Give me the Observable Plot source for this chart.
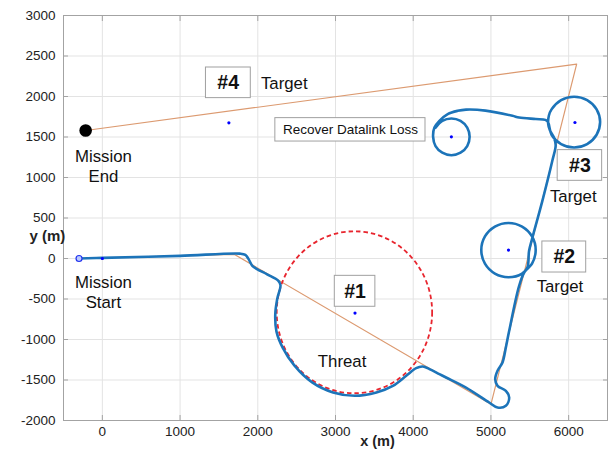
<!DOCTYPE html>
<html><head><meta charset="utf-8">
<script src="https://cdn.jsdelivr.net/npm/d3@7"></script>
<script src="https://cdn.jsdelivr.net/npm/@observablehq/plot@0.6"></script>
<style>
body{margin:0;background:#fff;font-family:"Liberation Sans",Arial,sans-serif;}
</style></head><body><div id="chart"></div>
<script>
const xTicks = [0,1000,2000,3000,4000,5000,6000];
const yTicks = [-2000,-1500,-1000,-500,0,500,1000,1500,2000,2500,3000];

// planned path (orange)
const plannedX = [-300, 1700, 5000, 6103, -215];
const plannedY = [0, 50, -1800, 2400, 1580];

// flown trajectory (blue)
const trajX = [-300,0,1000,1770,1840,1880,1930,1990,2120,2265,2292,2250,2225,2240,2320,2470,2700,2969,3247,3526,3738,3910,4038,4123,4209,4337,4423,4679,4978,5085,5192,5235,5192,5085,5055,5085,5149,5192,5235,5363,5432,
  5529,5576,5529,5401,5226,5051,4923,4876,4923,5051,5226,5401,5469,5491,5534,5662,5790,5833,5812,5760,5737,
  5746,5780,5903,6070,6238,6360,6405,6360,6238,6070,5903,5780,5735,5700,5577,5363,5277,4930,4680,4572,4444,4337,4273,4256,4287,4374,4491,4609,4695,4726,4695,4609,4491,4374,4287];
const trajY = [0,8,33,60,45,-5,-90,-130,-195,-275,-330,-500,-690,-900,-1100,-1320,-1530,-1654,-1695,-1654,-1572,-1448,-1353,-1333,-1365,-1427,-1469,-1593,-1778,-1840,-1819,-1716,-1633,-1572,-1489,-1386,-1284,-1099,-893,-337,-167,
  -64,104,272,394,439,394,272,104,-64,-186,-231,-186,-111,95,259,712,1206,1400,1490,1580,1660,
  1765,1841,1955,1997,1955,1841,1684,1528,1413,1371,1413,1528,1684,1712,1722,1740,1762,1826,1838,1823,1783,1700,1617,1502,1388,1306,1275,1306,1388,1502,1616,1699,1729,1699,1616];

// waypoint centres (small blue dots)
const waypointX = [0, 3251, 5226, 6081, 1628, 4491];
const waypointY = [0, -674, 104, 1679, 1675, 1502];

// threat zone
const threatX = [3250], threatY = [-670], threatR = [1000];

const startX = [-300], startY = [0];
const endX = [-215], endY = [1580];

// boxed number labels
const boxText = ["#1", "#2", "#3", "#4"];
const boxTextX = [3251, 5944, 6145, 1619];
const boxTextY = [-405, 19, 1148, 2169];
const boxX1 = [2991, 5662, 5859, 1333], boxX2 = [3513, 6226, 6431, 1910];
const boxY1 = [-596, -173, 959, 1980], boxY2 = [-214, 210, 1338, 2358];

// plain labels
const labelText = ["Target", "Target", "Target", "Threat", "Mission\nStart", "Mission\nEnd"];
const labelX = [2341, 6059, 5888, 3085, 13, 13];
const labelY = [2173, 774, -337, -1263, -407, 1151];

// recover note
const noteText = ["Recover Datalink Loss"];
const noteX = [3192], noteY = [1589];
const noteX1 = [2226], noteX2 = [4158], noteY1 = [1444], noteY2 = [1733];

const planned = plannedX.map((x,i)=>({x, y: plannedY[i]}));
const traj = trajX.map((x,i)=>({x, y: trajY[i]}));
const wps = waypointX.map((x,i)=>({x, y: waypointY[i]}));
const boxes = boxText.map((t,i)=>({t, x: boxTextX[i], y: boxTextY[i], x1: boxX1[i], x2: boxX2[i], y1: boxY1[i], y2: boxY2[i]}));
const labels = labelText.map((t,i)=>({t, x: labelX[i], y: labelY[i]}));
const notes = noteText.map((t,i)=>({t, x: noteX[i], y: noteY[i], x1: noteX1[i], x2: noteX2[i], y1: noteY1[i], y2: noteY2[i]}));

function threatMark(index, scales) {
  const g = d3.create("svg:g");
  threatX.forEach((cx, i) => {
    const px = scales.x(cx), py = scales.y(threatY[i]);
    const rx = Math.abs(scales.x(cx + threatR[i]) - px);
    const ry = Math.abs(scales.y(threatY[i] + threatR[i]) - py);
    g.append("ellipse").attr("cx", px).attr("cy", py).attr("rx", rx).attr("ry", ry)
      .attr("fill", "none").attr("stroke", "#e8252e").attr("stroke-width", 1.8)
      .attr("stroke-dasharray", "4.5,3");
  });
  return g.node();
}

const fmt = d => String(d);
const frameGray = "#a3a3a3";
const txt = "#222";

const plot = Plot.plot({
  width: 613, height: 452,
  marginLeft: 63, marginRight: 6, marginTop: 15, marginBottom: 32,
  style: {fontFamily: '"Liberation Sans", Arial, sans-serif', background: "#fff", overflow: "visible"},
  x: {domain: [-500, 6500], axis: null},
  y: {domain: [-2000, 3000], axis: null},
  marks: [
    Plot.gridX(xTicks, {stroke: "#e3e3e3", strokeOpacity: 1}),
    Plot.gridY(yTicks, {stroke: "#e3e3e3", strokeOpacity: 1}),
    Plot.frame({stroke: frameGray}),
    Plot.axisX({ticks: xTicks, anchor: "bottom", tickSize: 5, dy: -5, tickFormat: () => "", label: null, stroke: frameGray}),
    Plot.axisX({ticks: xTicks, anchor: "top", tickSize: 5, dy: 5, tickFormat: () => "", label: null, stroke: frameGray}),
    Plot.axisY({ticks: yTicks, anchor: "left", tickSize: 5, dx: 5, tickFormat: () => "", label: null, stroke: frameGray}),
    Plot.axisY({ticks: yTicks, anchor: "right", tickSize: 5, dx: -5, tickFormat: () => "", label: null, stroke: frameGray}),
    Plot.axisX({ticks: xTicks, anchor: "bottom", tickSize: 0, tickPadding: 6, tickFormat: fmt, label: null, fontSize: 13.5, fill: txt}),
    Plot.axisY({ticks: yTicks, anchor: "left", tickSize: 0, tickPadding: 8, tickFormat: fmt, label: null, fontSize: 13.5, fill: txt}),
    Plot.line(planned, {x: "x", y: "y", stroke: "#dc9a70", strokeWidth: 1.2}),
    threatMark,
    Plot.line(traj, {x: "x", y: "y", stroke: "#1c74b9", strokeWidth: 2.6, curve: "catmull-rom"}),
    Plot.dot(wps, {x: "x", y: "y", r: 1.6, fill: "#0000ff", stroke: "none"}),
    Plot.dot(startX.map((x,i)=>({x, y: startY[i]})), {x: "x", y: "y", r: 3, fill: "#b9c9ff", stroke: "#2233ee", strokeWidth: 1.2}),
    Plot.dot(endX.map((x,i)=>({x, y: endY[i]})), {x: "x", y: "y", r: 6.3, fill: "#000", stroke: "none"}),
    Plot.rect(boxes, {x1: "x1", x2: "x2", y1: "y1", y2: "y2", fill: "#fff", stroke: "#a0a0a0", strokeWidth: 1}),
    Plot.rect(notes, {x1: "x1", x2: "x2", y1: "y1", y2: "y2", fill: "#fff", stroke: "#a0a0a0", strokeWidth: 1}),
    Plot.text(boxes, {x: "x", y: "y", text: "t", fontSize: 19.5, fontWeight: "bold", fill: "#111"}),
    Plot.text(notes, {x: "x", y: "y", text: "t", fontSize: 13.5, fill: "#111"}),
    Plot.text(labels, {x: "x", y: "y", text: "t", fontSize: 16.8, lineHeight: 1.22, fill: "#111"}),
    Plot.text(["x (m)"], {frameAnchor: "bottom", text: d => d, dx: 42, dy: 25, fontSize: 14.5, fontWeight: "bold", fill: txt}),
    Plot.text(["y (m)"], {frameAnchor: "left", text: d => d, dx: -34, dy: 18.5, fontSize: 15, fontWeight: "bold", fill: txt})
  ]
});
document.getElementById("chart").appendChild(plot);
</script></body></html>
